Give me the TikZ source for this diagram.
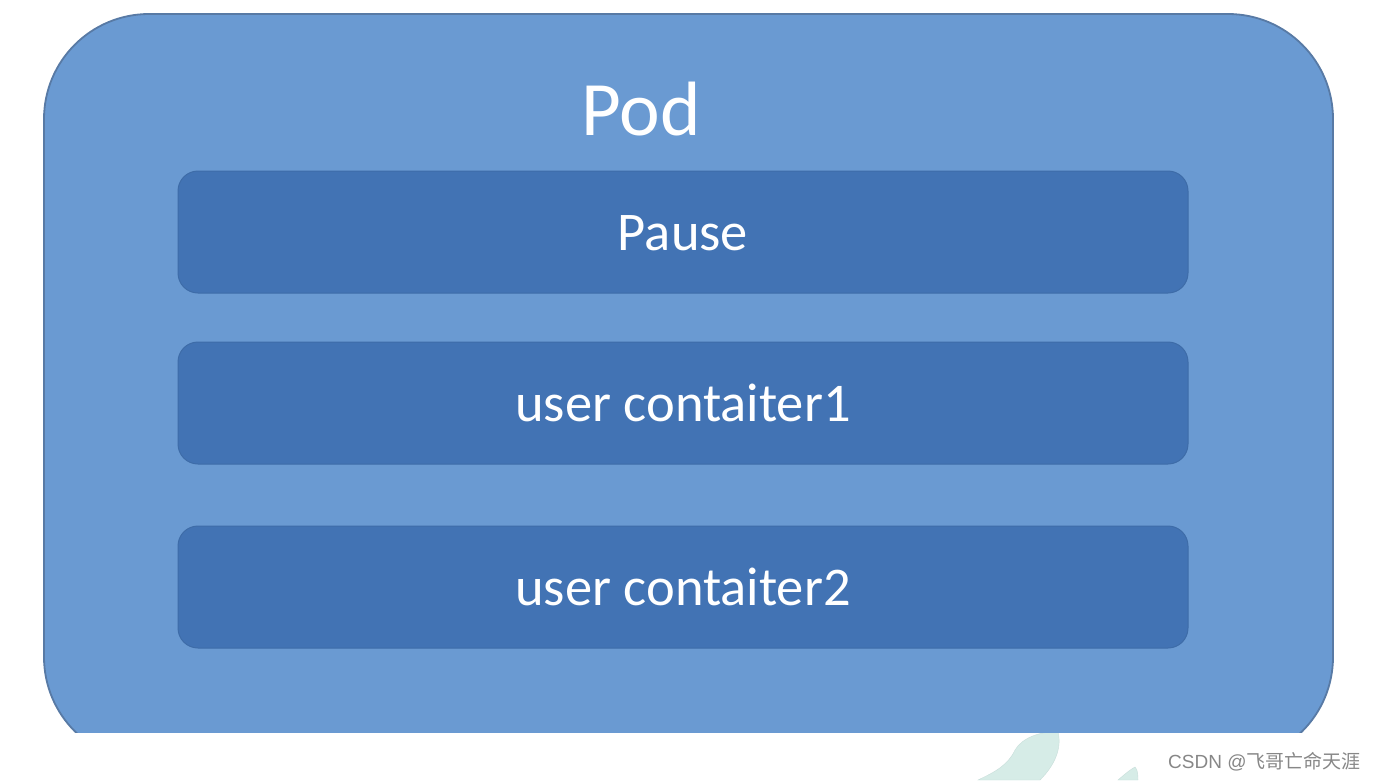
\documentclass[tikz,border=0pt]{standalone}
\usepackage{fontspec}
\setmainfont{Carlito}
\newfontfamily\wmfont{Liberation Sans}
\newfontfamily\cjk{Noto Sans CJK SC}
\definecolor{outerfill}{RGB}{106,154,210}
\definecolor{outerline}{RGB}{88,122,165}
\definecolor{boxfill}{RGB}{66,115,180}
\definecolor{boxline}{RGB}{62,108,168}
\definecolor{leaf}{RGB}{214,236,231}
\definecolor{leafline}{RGB}{200,222,218}
\definecolor{wm}{RGB}{135,135,135}
\tikzset{
  outerbox/.style={draw=outerline, line width=1.8pt, fill=outerfill, rounded corners=105pt,
    minimum width=1289pt, minimum height=748pt, inner sep=0pt},
  innerbox/.style={draw=boxline, line width=1pt, fill=boxfill, rounded corners=20pt,
    minimum width=1010pt, minimum height=122pt, inner sep=0pt},
  lbl/.style={text=white, font=\fontsize{54.5}{60}\selectfont},
}
\begin{document}
\begin{tikzpicture}[x=1pt,y=-1pt]
\useasboundingbox (0,0) rectangle (1374,780);
\fill[white] (0,0) rectangle (1374,780);
% faint leaf shapes of the watermark
\fill[leaf, draw=leafline, line width=0.4pt] (978,780) .. controls (995,772) and (1008,765) .. (1015,750)
  .. controls (1022,738) and (1040,731) .. (1058,732)
  .. controls (1062,748) and (1055,765) .. (1040,780) -- cycle;
\fill[leaf, draw=leafline, line width=0.4pt] (1118,780) .. controls (1125,774) and (1131,769) .. (1135,767)
  .. controls (1138,770) and (1138,776) .. (1138,780) -- cycle;
\begin{scope}
\clip (0,0) rectangle (1374,732);
\node[outerbox] (pod) at (688.5,388) {};
\end{scope}
\node[text=white, font=\fontsize{77}{80}\selectfont, anchor=base] (podlabel) at (641,135) {Pod};
\node[innerbox] (pause) at (683,232) {};
\node[innerbox] (user1) at (683,403) {};
\node[innerbox] (user2) at (683,587) {};
\node[lbl, anchor=base] (pauselabel) at (683,250) {Pause};
\node[lbl, anchor=base] (user1label) at (683,421) {user contaiter1};
\node[lbl, anchor=base] (user2label) at (683,605) {user contaiter2};
\node[anchor=base west, inner sep=0pt, text=wm, font=\wmfont\fontsize{19}{22}\selectfont] (wmark) at (1168,768) {CSDN @{\cjk 飞哥亡命天涯}};
\end{tikzpicture}
\end{document}
